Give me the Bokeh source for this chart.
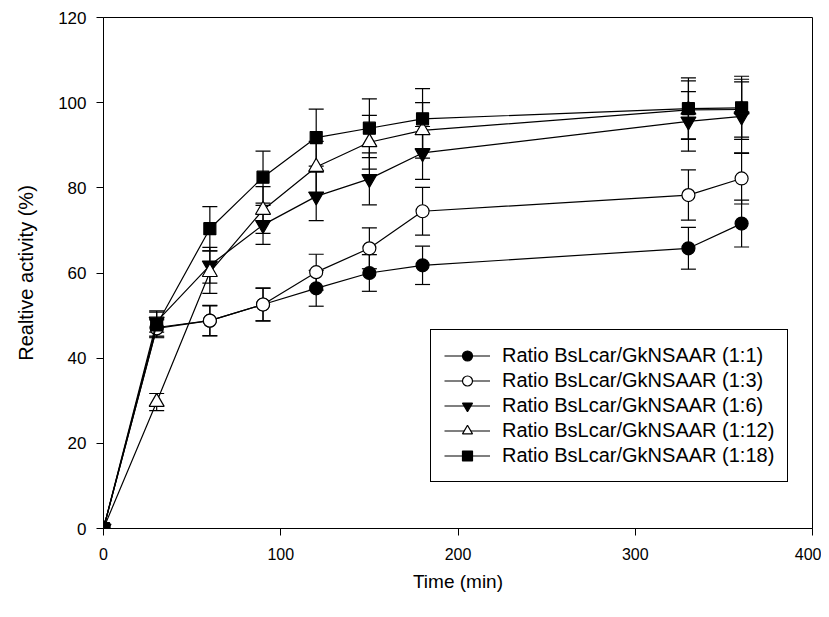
from bokeh.plotting import figure
from bokeh.models import (Range1d, FixedTicker, ColumnDataSource, Whisker, TeeHead,
                          Legend, LegendItem)
from bokeh.embed import file_html
from bokeh.resources import INLINE

# ---- data ----
time_min = [0, 30, 60, 90, 120, 150, 180, 330, 360]

labels = [
    "Ratio BsLcar/GkNSAAR (1:1)",
    "Ratio BsLcar/GkNSAAR (1:3)",
    "Ratio BsLcar/GkNSAAR (1:6)",
    "Ratio BsLcar/GkNSAAR (1:12)",
    "Ratio BsLcar/GkNSAAR (1:18)",
]

r1_1 = [0, 47.2, 48.8, 52.6, 56.4, 60.0, 61.8, 65.8, 71.6]
r1_1_err = [0, 2.0, 3.5, 3.8, 4.2, 4.3, 4.5, 4.9, 5.5]

r1_3 = [0, 47.0, 48.8, 52.6, 60.2, 65.8, 74.5, 78.3, 82.2]
r1_3_err = [0, 2.0, 3.6, 3.9, 4.2, 4.8, 5.6, 5.9, 6.0]

r1_6 = [0, 48.6, 61.8, 71.3, 78.0, 82.1, 88.2, 95.6, 96.8]
r1_6_err = [0, 2.5, 4.2, 4.6, 5.7, 6.1, 6.2, 7.0, 8.7]

r1_12 = [0, 29.7, 60.2, 74.8, 84.9, 90.7, 93.5, 98.3, 98.4]
r1_12_err = [0, 2.0, 5.0, 5.5, 6.0, 6.3, 6.5, 6.8, 6.5]

r1_18 = [0, 47.8, 70.4, 82.5, 91.8, 94.0, 96.2, 98.6, 98.8]
r1_18_err = [0, 3.0, 5.2, 6.1, 6.7, 6.9, 7.1, 7.2, 7.4]

x_ticks = [0, 100, 200, 300, 400]
y_ticks = [0, 20, 40, 60, 80, 100, 120]

series = [
    (r1_1, r1_1_err, "circle", "black", 13),
    (r1_3, r1_3_err, "circle", "white", 13),
    (r1_6, r1_6_err, "inverted_triangle", "black", 15),
    (r1_12, r1_12_err, "triangle", "white", 15),
    (r1_18, r1_18_err, "square", "black", 12),
]

FONT = "Liberation Sans"

p = figure(width=821, height=609, output_backend="svg", toolbar_location=None,
           x_range=Range1d(0, 400), y_range=Range1d(0, 120),
           min_border_left=103, min_border_right=9, min_border_top=17, min_border_bottom=81)

p.xgrid.visible = False
p.ygrid.visible = False
p.outline_line_color = "black"
p.outline_line_alpha = 1.0
p.outline_line_width = 1
p.background_fill_color = "white"
p.border_fill_color = "white"

p.xaxis.ticker = FixedTicker(ticks=x_ticks)
p.yaxis.ticker = FixedTicker(ticks=y_ticks)
for ax in (p.xaxis[0], p.yaxis[0]):
    ax.axis_line_color = "black"
    ax.axis_line_width = 1
    ax.major_tick_line_color = "black"
    ax.major_tick_out = 7
    ax.major_tick_in = 0
    ax.minor_tick_out = 0
    ax.minor_tick_in = 0
    ax.major_label_text_font = FONT
    ax.major_label_text_color = "black"
    ax.axis_label_text_font = FONT
    ax.axis_label_text_font_style = "normal"
    ax.axis_label_text_color = "black"

p.xaxis.major_label_text_font_size = "16px"
p.yaxis.major_label_text_font_size = "17px"
p.xaxis.axis_label_text_font_size = "19px"
p.yaxis.axis_label_text_font_size = "20px"

p.xaxis.axis_label = "Time (min)"
p.yaxis.axis_label = "Realtive activity (%)"
p.xaxis.major_label_standoff = 12
p.yaxis.major_label_standoff = 10
p.xaxis.axis_label_standoff = 8
p.yaxis.axis_label_standoff = 18

items = []
for (vals, errs, marker, fill, size), lab in zip(series, labels):
    upper = [v + e for v, e in zip(vals, errs)]
    lower = [v - e for v, e in zip(vals, errs)]
    src = ColumnDataSource(dict(x=time_min, y=vals, upper=upper, lower=lower))
    w = Whisker(base="x", upper="upper", lower="lower", source=src, dimension="height",
                line_color="black", line_width=1.2, level="underlay",
                upper_head=TeeHead(size=15, line_color="black", line_width=1.2),
                lower_head=TeeHead(size=15, line_color="black", line_width=1.2))
    p.add_layout(w)
    lr = p.line("x", "y", source=src, line_color="black", line_width=1.2)
    sr = p.scatter("x", "y", source=src, marker=marker, size=size,
                   fill_color=fill, line_color="black", line_width=1.2)
    items.append(LegendItem(label=lab, renderers=[lr, sr]))

legend = Legend(items=items, location=(327, 46),
                border_line_color="black", border_line_width=1, border_line_alpha=1.0,
                background_fill_color="white", background_fill_alpha=1.0,
                label_text_font=FONT, label_text_font_size="20px", label_text_color="black",
                glyph_width=46, glyph_height=25, label_height=25, spacing=0,
                padding=13, margin=0, label_standoff=12)
p.add_layout(legend, "center")

open("out.html", "w").write(file_html(p, INLINE))
